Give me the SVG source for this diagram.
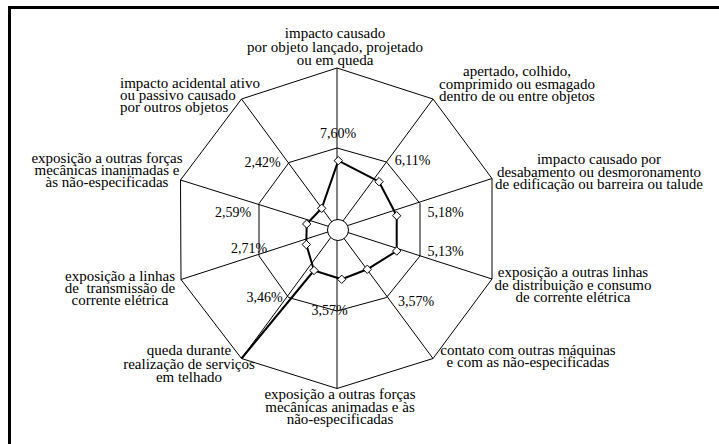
<svg xmlns="http://www.w3.org/2000/svg" xmlns:xlink="http://www.w3.org/1999/xlink" width="719" height="444" viewBox="0 0 719 444">
<style>
.cat{font-family:"Liberation Serif","Times New Roman",serif;font-size:15px;fill:#000;text-anchor:middle;white-space:pre}
.pct{font-family:"Liberation Serif","Times New Roman",serif;font-size:14px;fill:#000;text-anchor:middle}
.grid{fill:none;stroke:#000;stroke-width:1}
.spoke{stroke:#000;stroke-width:1}
.series{fill:none;stroke:#000;stroke-width:2;stroke-linejoin:round}
.mk{fill:#fff;stroke:#000;stroke-width:1}
</style>
<defs>
<path id="dia" d="M0,-4.2 L4.2,0 L0,4.2 L-4.2,0 Z"/>
</defs>
<rect width="719" height="444" fill="#fff"/>
<rect x="8" y="6" width="711" height="3" fill="#000"/>
<rect x="8" y="6" width="3" height="438" fill="#000"/>

<g id="grid">
<polygon class="grid" points="337,68 433,99 492,178.5 492,279 433,358.5 337,388.5 241.5,358.5 181,279.5 180.5,180 241.5,99"/>
<polygon class="grid" points="337,148 386.5,162 420,203.5 420,256 386.5,297.5 337,311 288.5,297.5 259,256 259,203.5 289,162.5"/>
</g>
<g id="connectors">
<line class="spoke" x1="337" y1="229" x2="337" y2="68"/>
<line class="spoke" x1="337" y1="229" x2="433" y2="99"/>
<line class="spoke" x1="337" y1="229" x2="492" y2="178.5"/>
<line class="spoke" x1="337" y1="229" x2="492" y2="279"/>
<line class="spoke" x1="337" y1="229" x2="433" y2="358.5"/>
<line class="spoke" x1="337" y1="229" x2="337" y2="388.5"/>
<line class="spoke" x1="337" y1="229" x2="241.5" y2="358.5"/>
<line class="spoke" x1="337" y1="229" x2="181" y2="279.5"/>
<line class="spoke" x1="337" y1="229" x2="180.5" y2="180"/>
<line class="spoke" x1="337" y1="229" x2="241.5" y2="99"/>
</g>
<circle cx="338" cy="230" r="10.5" fill="#fff" stroke="#000" stroke-width="1"/>
<g id="series">
<polygon class="series" points="338.3,160.7 379,181.7 396.7,215.7 396.7,251 367.3,269.3 341.7,279.3 314,270.5 306.3,244.5 306.7,224 321.7,208.3"/>
<line class="series" x1="314" y1="270.5" x2="241.5" y2="358.5"/>
<use xlink:href="#dia" class="mk" x="338.3" y="160.7"/>
<use xlink:href="#dia" class="mk" x="379" y="181.7"/>
<use xlink:href="#dia" class="mk" x="396.7" y="215.7"/>
<use xlink:href="#dia" class="mk" x="396.7" y="251"/>
<use xlink:href="#dia" class="mk" x="367.3" y="269.3"/>
<use xlink:href="#dia" class="mk" x="341.7" y="279.3"/>
<use xlink:href="#dia" class="mk" x="314" y="270.5"/>
<use xlink:href="#dia" class="mk" x="306.3" y="244.5"/>
<use xlink:href="#dia" class="mk" x="306.7" y="224"/>
<use xlink:href="#dia" class="mk" x="321.7" y="208.3"/>
</g>

<g id="axis0">
<text class="cat" x="335" y="38">impacto causado</text>
<text class="cat" x="335" y="51.5">por objeto lançado, projetado</text>
<text class="cat" x="335" y="65">ou em queda</text>
<text class="pct" x="338" y="138">7,60%</text>
</g>
<g id="axis1">
<text class="cat" x="517" y="76">apertado, colhido,</text>
<text class="cat" x="517" y="88.5">comprimido ou esmagado</text>
<text class="cat" x="517" y="101">dentro de ou entre objetos</text>
<text class="pct" x="412.5" y="164.5">6,11%</text>
</g>
<g id="axis2">
<text class="cat" x="599" y="164">impacto causado por</text>
<text class="cat" x="599" y="176.5">desabamento ou desmoronamento</text>
<text class="cat" x="599" y="189">de edificação ou barreira ou talude</text>
<text class="pct" x="445.5" y="216.7">5,18%</text>
</g>
<g id="axis3">
<text class="cat" x="573" y="277">exposição a outras linhas</text>
<text class="cat" x="573" y="289.5">de distribuição e consumo</text>
<text class="cat" x="573" y="302">de corrente elétrica</text>
<text class="pct" x="445.5" y="256">5,13%</text>
</g>
<g id="axis4">
<text class="cat" x="528" y="355">contato com outras máquinas</text>
<text class="cat" x="528" y="367">e com as não-especificadas</text>
<text class="pct" x="416" y="306">3,57%</text>
</g>
<g id="axis5">
<text class="cat" x="340" y="399">exposição a outras forças</text>
<text class="cat" x="340" y="411.5">mecânicas animadas e às</text>
<text class="cat" x="340" y="424">não-especificadas</text>
<text class="pct" x="329.5" y="315">3,57%</text>
</g>
<g id="axis6">
<text class="cat" x="189" y="355">queda durante</text>
<text class="cat" x="189" y="368.5">realização de serviços</text>
<text class="cat" x="189" y="382">em telhado</text>
<text class="pct" x="264.5" y="301.5">3,46%</text>
</g>
<g id="axis7">
<text class="cat" x="120" y="281">exposição a linhas</text>
<text class="cat" x="120" y="293">de  transmissão de</text>
<text class="cat" x="120" y="305">corrente elétrica</text>
<text class="pct" x="249" y="253.3">2,71%</text>
</g>
<g id="axis8">
<text class="cat" x="107" y="163">exposição a outras forças</text>
<text class="cat" x="107" y="175">mecânicas inanimadas e</text>
<text class="cat" x="107" y="187">às não-especificadas</text>
<text class="pct" x="233" y="216.7">2,59%</text>
</g>
<g id="axis9">
<text class="cat" x="120" y="88" style="text-anchor:start">impacto acidental ativo</text>
<text class="cat" x="120" y="100" style="text-anchor:start">ou passivo causado</text>
<text class="cat" x="120" y="112" style="text-anchor:start">por outros objetos</text>
<text class="pct" x="262.5" y="166.7">2,42%</text>
</g>
</svg>
